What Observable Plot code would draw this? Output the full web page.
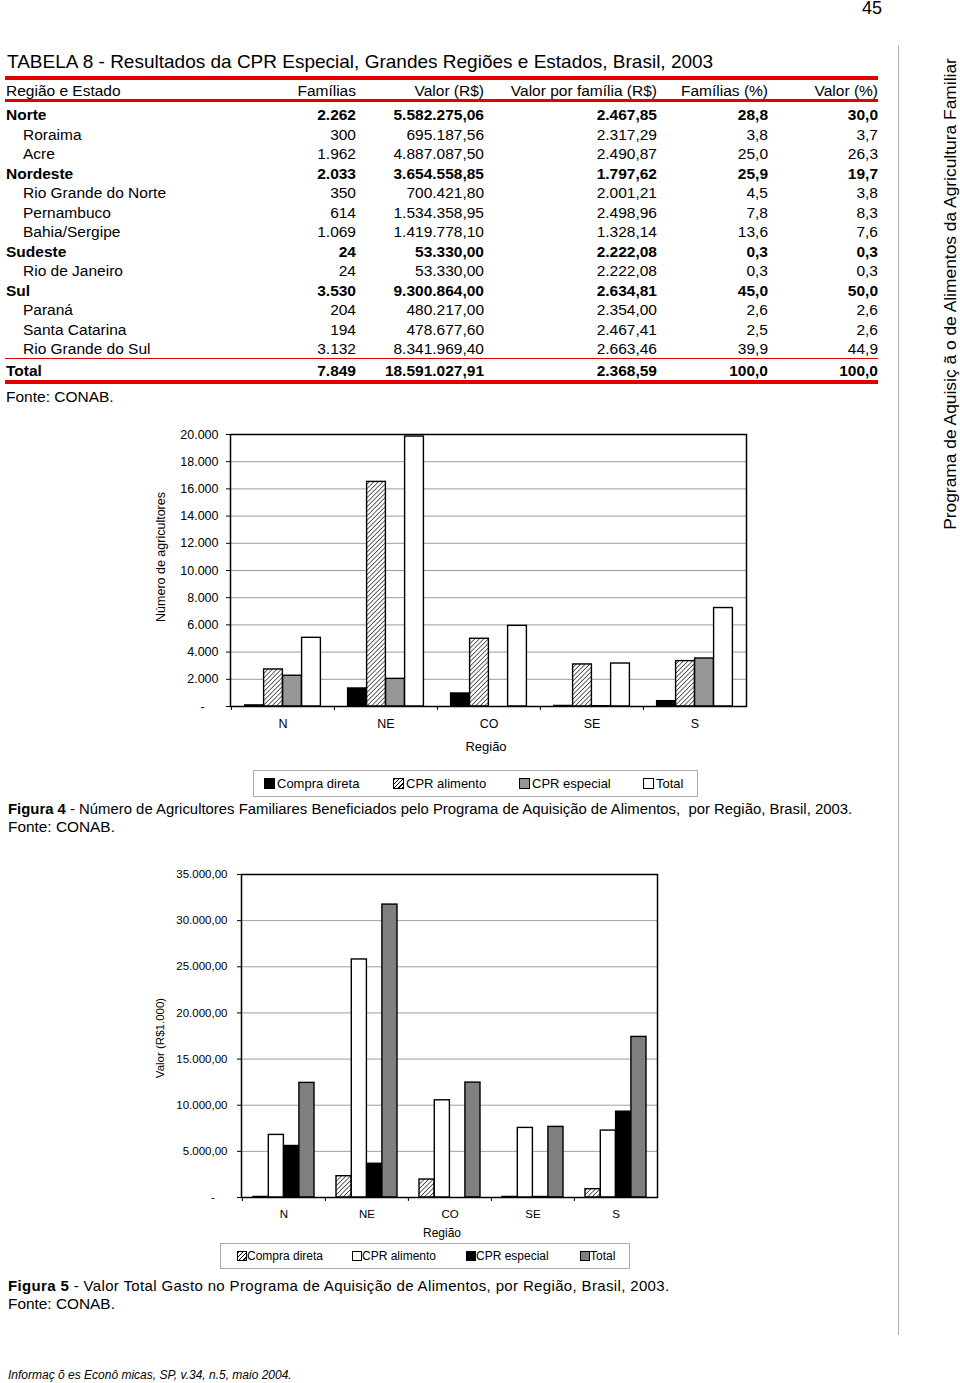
<!DOCTYPE html>
<html><head><meta charset="utf-8">
<script src="https://cdn.jsdelivr.net/npm/d3@7"></script>
<script src="https://cdn.jsdelivr.net/npm/@observablehq/plot@0.6"></script>
<style>
html,body{margin:0;padding:0;background:#fff;}
body{width:960px;height:1383px;position:relative;overflow:hidden;font-family:"Liberation Sans",Arial,Helvetica,sans-serif;color:#000;}
.t{position:absolute;white-space:pre;line-height:1;}
.chart{position:absolute;}
.rule{position:absolute;background:#e00000;}
.box{position:absolute;border:1.5px solid #aaa;box-sizing:border-box;}
.sw{position:absolute;border:1px solid #000;box-sizing:border-box;}
</style></head><body>
<script>
// ---------- Table data ----------
const tableTitle = "TABELA 8 - Resultados da CPR Especial, Grandes Regiões e Estados, Brasil, 2003";
const tableHeaders = ["Região e Estado","Famílias","Valor (R$)","Valor por família (R$)","Famílias (%)","Valor (%)"];
const rowNames = ["Norte","Roraima","Acre","Nordeste","Rio Grande do Norte","Pernambuco","Bahia/Sergipe","Sudeste","Rio de Janeiro","Sul","Paraná","Santa Catarina","Rio Grande do Sul","Total"];
const rowIsRegion = [true,false,false,true,false,false,false,true,false,true,false,false,false,true];
const familias = ["2.262","300","1.962","2.033","350","614","1.069","24","24","3.530","204","194","3.132","7.849"];
const valores = ["5.582.275,06","695.187,56","4.887.087,50","3.654.558,85","700.421,80","1.534.358,95","1.419.778,10","53.330,00","53.330,00","9.300.864,00","480.217,00","478.677,60","8.341.969,40","18.591.027,91"];
const valorPorFamilia = ["2.467,85","2.317,29","2.490,87","1.797,62","2.001,21","2.498,96","1.328,14","2.222,08","2.222,08","2.634,81","2.354,00","2.467,41","2.663,46","2.368,59"];
const familiasPct = ["28,8","3,8","25,0","25,9","4,5","7,8","13,6","0,3","0,3","45,0","2,6","2,5","39,9","100,0"];
const valorPct = ["30,0","3,7","26,3","19,7","3,8","8,3","7,6","0,3","0,3","50,0","2,6","2,6","44,9","100,0"];
const fonte = "Fonte: CONAB.";

// ---------- Chart data ----------
const regions = ["N","NE","CO","SE","S"];
const seriesNames = ["Compra direta","CPR alimento","CPR especial","Total"];
// Figura 4 - número de agricultores
const agrCompraDireta = [80, 1325, 957, 40, 393];
const agrCprAlimento = [2724, 16515, 4982, 3092, 3337];
const agrCprEspecial = [2262, 2033, 0, 24, 3530];
const agrTotal = [5050, 19850, 5930, 3160, 7240];
const agrTicks = [0,2000,4000,6000,8000,10000,12000,14000,16000,18000,20000];
// Figura 5 - valor (R$1.000)
const valCompraDireta = [60, 2309, 1948, 60, 902];
const valCprAlimento = [6782, 25794, 10534, 7540, 7251];
const valCprEspecial = [5582.28, 3654.56, 0, 53.33, 9300.86];
const valTotal = [12420, 31740, 12450, 7650, 17400];
const valTicks = [0,5000,10000,15000,20000,25000,30000,35000];

const fig4Label = "Figura 4";
const fig4Text = " - Número de Agricultores Familiares Beneficiados pelo Programa de Aquisição de Alimentos,  por Região, Brasil, 2003.";
const fig5Label = "Figura 5";
const fig5Text = " - Valor Total Gasto no Programa de Aquisição de Alimentos, por Região, Brasil, 2003.";
const sideText = "Programa de Aquisiç ã o de Alimentos da Agricultura Familiar";
const footerText = "Informaç õ es Econô micas, SP, v.34, n.5, maio 2004.";
const pageNumber = "45";

// ---------- helpers ----------
function txt(content, {x, y, anchor = "start", size = 15, weight = "normal", style = "normal", rotate = 0, color = "#000", html = false, spacing = 0}) {
  const d = document.createElement("div");
  d.className = "t";
  if (html) d.innerHTML = content; else d.textContent = content;
  d.style.left = x + "px";
  d.style.top = y + "px";
  d.style.fontSize = size + "px";
  d.style.fontWeight = weight;
  d.style.fontStyle = style;
  d.style.color = color;
  if (spacing) d.style.letterSpacing = spacing + "px";
  const tx = anchor === "start" ? "0" : anchor === "middle" ? "-50%" : "-100%";
  d.style.transformOrigin = "0 0";
  d.style.transform = rotate ? `rotate(${rotate}deg) translate(-50%,-50%)` : `translate(${tx},-50%)`;
  document.body.appendChild(d);
  return d;
}
function block(cls, x, y, w, h, extra = {}) {
  const d = document.createElement("div");
  d.className = cls;
  Object.assign(d.style, {left: x + "px", top: y + "px", width: w + "px", height: h + "px"}, extra);
  document.body.appendChild(d);
  return d;
}

// ---------- page furniture ----------
txt(pageNumber, {x: 882, y: 8, anchor: "end", size: 18});
block("rule", 898, 45, 1, 1290, {background: "#b0b0b0"});
txt(sideText, {x: 951, y: 294, rotate: -90, size: 17.4});
txt(footerText, {x: 8, y: 1375, size: 12, style: "italic"});

// ---------- table ----------
const TS = 15.5;
txt(tableTitle, {x: 7, y: 61, size: 19});
block("rule", 5, 76, 873, 4);
block("rule", 5, 99, 873, 3);
block("rule", 5, 358, 873, 1);
block("rule", 5, 380, 873, 4);
const colRight = [356, 484, 657, 768, 878];
const headerY = 91;
txt(tableHeaders[0], {x: 6, y: headerY, size: TS});
tableHeaders.slice(1).forEach((h, i) => txt(h, {x: colRight[i], y: headerY, anchor: "end", size: TS}));
const cols = [familias, valores, valorPorFamilia, familiasPct, valorPct];
rowNames.forEach((name, i) => {
  const isTotal = i === rowNames.length - 1;
  const y = isTotal ? 371 : 115 + i * 19.5;
  const w = rowIsRegion[i] ? "bold" : "normal";
  txt(name, {x: rowIsRegion[i] ? 6 : 23, y, size: TS, weight: w});
  cols.forEach((c, j) => txt(c[i], {x: colRight[j], y, anchor: "end", size: TS, weight: w}));
});
txt(fonte, {x: 6, y: 397, size: TS});

// ---------- charts ----------
const ptBR = d3.formatLocale({decimal: ",", thousands: ".", grouping: [3], currency: ["R$", ""]});
const f0 = ptBR.format(",.0f"), f2 = ptBR.format(",.2f");
const dash = "-\u00a0\u00a0\u00a0\u00a0";

function hatchDefs(id, size) {
  return `<defs><pattern id="${id}" patternUnits="userSpaceOnUse" width="${size}" height="${size}" patternTransform="rotate(45)">` +
    `<rect width="${size}" height="${size}" fill="white"/><line x1="0" y1="0" x2="0" y2="${size}" stroke="black" stroke-width="1.2"/></pattern></defs>`;
}

function groupedBars({values, fills, ticks, fmt, width, height, margins, barW, fontSize, gridColor, patternId, tickPadding, xPadding}) {
  const [mt, mr, mb, ml] = margins;
  const band = (width - ml - mr) / regions.length;
  const off = (band - barW * values.length) / 2;
  const marks = [
    Plot.gridY(ticks, {stroke: gridColor, strokeOpacity: 1, strokeWidth: 1}),
    ...values.map((vals, k) => Plot.barY(
      regions.map((r, i) => ({region: r, series: seriesNames[k], value: vals[i]})),
      {x: "region", y: "value", fill: fills[k], stroke: "black", strokeWidth: 1.4,
       insetLeft: off + k * barW, insetRight: band - off - (k + 1) * barW})),
    Plot.frame({stroke: "black", strokeWidth: 1.5}),
    Plot.axisY(ticks, {tickSize: 4, tickPadding, tickFormat: fmt, label: null}),
    Plot.axisX({tickSize: 0, tickPadding: xPadding, label: null}),
    Plot.axisX({tickSize: 4, tickFormat: () => "", label: null, dx: -band / 2})
  ];
  const svg = Plot.plot({
    width, height, marginTop: mt, marginRight: mr, marginBottom: mb, marginLeft: ml,
    x: {domain: regions, padding: 0},
    y: {domain: [0, ticks[ticks.length - 1]]},
    style: {fontFamily: "'Liberation Sans', Arial, sans-serif", fontSize: fontSize + "px", color: "#000", background: "white", overflow: "visible"},
    marks
  });
  svg.insertAdjacentHTML("afterbegin", hatchDefs(patternId, 3.2));
  return svg;
}

// Figura 4
const c1 = groupedBars({
  values: [agrCompraDireta, agrCprAlimento, agrCprEspecial, agrTotal],
  fills: ["black", "url(#hatch1)", "#969696", "white"],
  ticks: agrTicks, fmt: v => v === 0 ? dash : f0(v),
  width: 610, height: 340, margins: [14, 14, 54, 80], barW: 19, fontSize: 12.5,
  gridColor: "#9a9a9a", patternId: "hatch1", tickPadding: 8, xPadding: 13
});
c1.classList.add("chart");
c1.style.left = "150px"; c1.style.top = "420px";
document.body.appendChild(c1);
txt("Número de agricultores", {x: 161, y: 557, rotate: -90, size: 12.5});
txt("Região", {x: 486, y: 746, anchor: "middle", size: 13});
block("box", 253, 770, 445, 27);
const leg1 = [[264, 277, "black"], [393, 406, "hatch"], [519, 532, "#969696"], [643, 656, "white"]];
leg1.forEach(([sx, tx, f], i) => {
  const s = block("sw", sx, 778, 11, 11);
  s.style.background = f === "hatch" ? "repeating-linear-gradient(135deg,#000 0 1px,#fff 1px 3px)" : f;
  txt(seriesNames[i], {x: tx, y: 783, size: 13});
});
txt(`<b>${fig4Label}</b>${fig4Text}`, {x: 8, y: 809, size: 14.88, html: true});
txt(fonte, {x: 8, y: 827, size: 15.4});

// Figura 5
const c2 = groupedBars({
  values: [valCompraDireta, valCprAlimento, valCprEspecial, valTotal],
  fills: ["url(#hatch2)", "white", "black", "#808080"],
  ticks: valTicks, fmt: v => v === 0 ? dash : f2(v),
  width: 520, height: 382, margins: [14, 13, 45, 91], barW: 15.3, fontSize: 11.5,
  gridColor: "#a0a0a0", patternId: "hatch2", tickPadding: 10, xPadding: 12
});
c2.classList.add("chart");
c2.style.left = "150px"; c2.style.top = "860px";
document.body.appendChild(c2);
txt("Valor (R$1.000)", {x: 161, y: 1038, rotate: -90, size: 11.5});
txt("Região", {x: 442, y: 1233, anchor: "middle", size: 12});
block("box", 220, 1243, 410, 26);
const leg2 = [[237, 247, "hatch"], [352, 362, "white"], [466, 476, "black"], [580, 590, "#808080"]];
leg2.forEach(([sx, tx, f], i) => {
  const s = block("sw", sx, 1251, 10, 10);
  s.style.background = f === "hatch" ? "repeating-linear-gradient(135deg,#000 0 1px,#fff 1px 3px)" : f;
  txt(seriesNames[i], {x: tx, y: 1256, size: 12});
});
txt(`<b>${fig5Label}</b>${fig5Text}`, {x: 8, y: 1285, size: 15, html: true, spacing: 0.35});
txt(fonte, {x: 8, y: 1304, size: 15.4});
</script>
</body></html>
